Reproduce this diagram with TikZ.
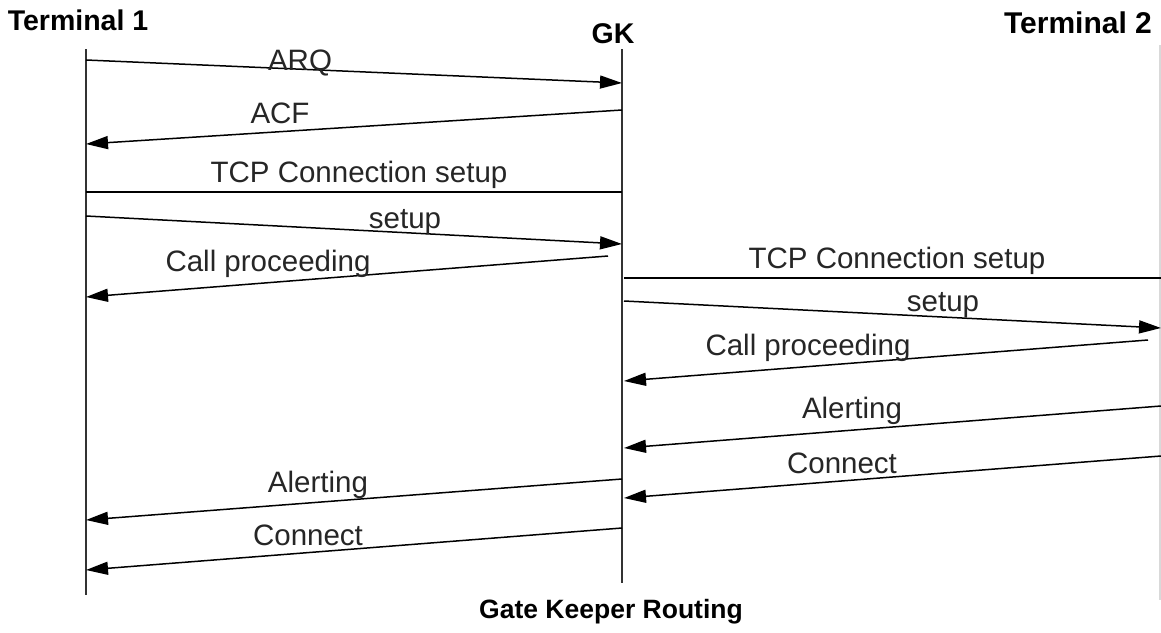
\documentclass[tikz,border=0pt]{standalone}
\usepackage{fontspec}
\setmainfont{Liberation Sans}
\usetikzlibrary{arrows.meta}
\begin{document}
\begin{tikzpicture}[x=1pt,y=-1pt,
  lifeline/.style={draw=black!80,line width=1.4pt},
  msg/.style={draw=black,line width=1.5pt,-{Triangle[length=22pt,width=13pt]}},
  plain/.style={draw=black,line width=1.5pt},
  lbl/.style={font=\fontsize{29.5}{32}\selectfont,text=black!85,inner sep=0pt},
  hdr/.style={font=\fontsize{28.5}{32}\selectfont\bfseries,text=black,inner sep=0pt}]
\useasboundingbox[fill=white] (0,0) rectangle (1161,632);
% headers
\node[hdr] (t1) at (78,20) {Terminal 1};
\node[hdr] (gk) at (613,34) {GK};
\node[hdr,font=\fontsize{30}{32}\selectfont\bfseries] (t2) at (1078,23) {Terminal 2};
\node[hdr,font=\fontsize{26.5}{32}\selectfont\bfseries] (title) at (611,612) {Gate Keeper Routing};
% lifelines
\coordinate (t1top) at (86,49);
\coordinate (t1bot) at (86,595);
\coordinate (gktop) at (622,49);
\coordinate (gkbot) at (622,583);
\coordinate (t2top) at (1160,45);
\coordinate (t2bot) at (1160,600);
\draw[lifeline] (t1top) -- (t1bot);
\draw[lifeline] (gktop) -- (gkbot);
\draw[draw=black!15,line width=1.2pt] (t2top) -- (t2bot);
% message endpoints
\coordinate (a1) at (86,60);   \coordinate (b1) at (622,83);
\coordinate (a2) at (622,110); \coordinate (b2) at (86,144);
\coordinate (a3) at (86,192);  \coordinate (b3) at (622,192);
\coordinate (a4) at (86,216);  \coordinate (b4) at (622,244);
\coordinate (a5) at (608,256); \coordinate (b5) at (86,297);
\coordinate (a6) at (624,278); \coordinate (b6) at (1161,278);
\coordinate (a7) at (624,301); \coordinate (b7) at (1161,328);
\coordinate (a8) at (1148,340);\coordinate (b8) at (624,381);
\coordinate (a9) at (1161,406);\coordinate (b9) at (624,448);
\coordinate (a10) at (1161,456);\coordinate (b10) at (624,498);
\coordinate (a11) at (622,479);\coordinate (b11) at (86,520);
\coordinate (a12) at (622,528);\coordinate (b12) at (86,570);
% messages
\draw[msg] (a1) -- (b1);
\draw[msg] (a2) -- (b2);
\draw[plain] (a3) -- (b3);
\draw[msg] (a4) -- (b4);
\draw[msg] (a5) -- (b5);
\draw[plain] (a6) -- (b6);
\draw[msg] (a7) -- (b7);
\draw[msg] (a8) -- (b8);
\draw[msg] (a9) -- (b9);
\draw[msg] (a10) -- (b10);
\draw[msg] (a11) -- (b11);
\draw[msg] (a12) -- (b12);
% labels
\node[lbl] (l1) at (300,63) {ARQ};
\node[lbl] (l2) at (280,113) {ACF};
\node[lbl] (l3) at (359,175) {TCP Connection setup};
\node[lbl] (l4) at (405,222) {setup};
\node[lbl] (l5) at (268,264) {Call proceeding};
\node[lbl] (l6) at (897,261) {TCP Connection setup};
\node[lbl] (l7) at (943,305) {setup};
\node[lbl] (l8) at (808,348) {Call proceeding};
\node[lbl] (l9) at (852,411) {Alerting};
\node[lbl] (l10) at (842,463) {Connect};
\node[lbl] (l11) at (318,485) {Alerting};
\node[lbl] (l12) at (308,535) {Connect};
\end{tikzpicture}
\end{document}
